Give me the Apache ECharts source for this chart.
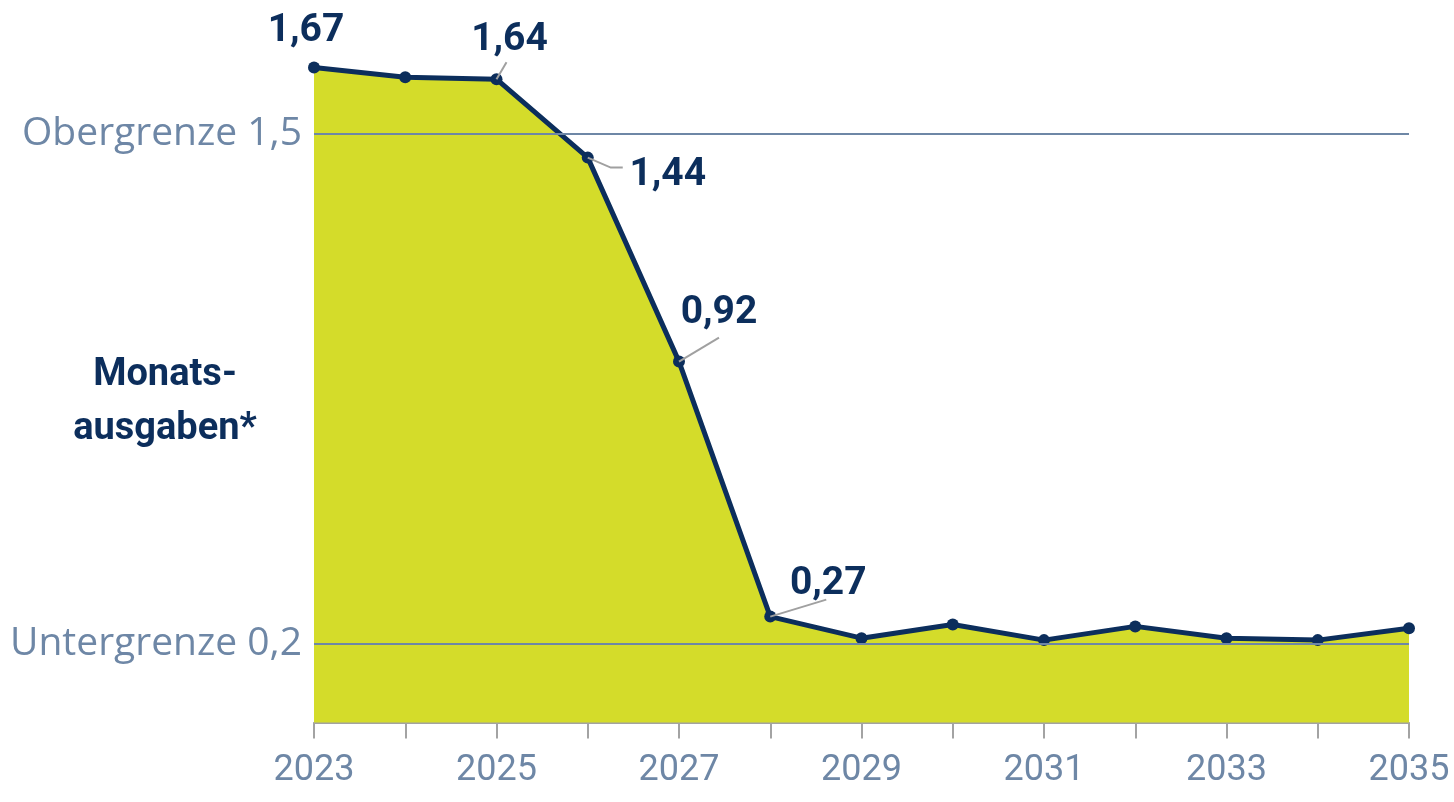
<!DOCTYPE html>
<html>
<head>
<meta charset="utf-8">
<script src="https://cdn.jsdelivr.net/npm/echarts@6/dist/echarts.min.js"></script>
<style>
  html, body { margin: 0; padding: 0; background: #fff; }
  #container { width: 1454px; height: 802px; }
</style>
</head>
<body>
<div id="container"></div>
<script>
// Jahre und Werte
var years = ['2023', '2024', '2025', '2026', '2027', '2028', '2029', '2030', '2031', '2032', '2033', '2034', '2035'];
var values = [1.67, 1.645, 1.64, 1.44, 0.92, 0.27, 0.215, 0.25, 0.21, 0.245, 0.215, 0.21, 0.24];
var labelled = [0, 2, 3, 4, 5];   // Punkte mit Beschriftung
var labelShift = [[-8, -6], [0, 0], [13, -8], [80, 48], [40, -18], [58, -2]];
// Hinweislinien (Pixelversatz vom Punkt)
var leaders = {
    2: [[0, 0], [10, -17]],
    3: [[0, 0], [23, 10], [35, 10]],
    4: [[0, 0], [40, -24]],
    5: [[0, 0], [56, -17]]
};
var limits = [1.5, 0.2];
var limitNames = ['Obergrenze 1,5', 'Untergrenze 0,2'];

var navy = '#0c2e5c';
var grey = '#6e87a6';

var myChart = echarts.init(document.getElementById('container'));

var seriesData = values.map(function (v, i) {
    return { value: v, label: { show: labelled.indexOf(i) >= 0 } };
});
var leaderData = Object.keys(leaders).map(function (k) {
    return [Number(k), values[k]];
});

myChart.setOption({
    animation: false,
    grid: { left: 314, right: 45, top: 16.4, bottom: 79.5 },
    graphic: [{
        type: 'text',
        x: 165,
        y: 348,
        style: {
            text: 'Monats-\nausgaben*',
            fill: navy,
            font: 'bold 38px Roboto',
            lineHeight: 54,
            align: 'center',
            verticalAlign: 'top'
        }
    }],
    xAxis: {
        type: 'category',
        boundaryGap: false,
        data: years,
        axisLine: { lineStyle: { color: '#a3a3a0', width: 2 } },
        axisTick: { show: true, interval: 0, length: 16, lineStyle: { color: '#a3a3a3', width: 2 } },
        axisLabel: { interval: 1, color: grey, fontSize: 36, fontFamily: 'Roboto', margin: 30 },
        splitLine: { show: false }
    },
    yAxis: {
        type: 'value',
        min: 0,
        max: 1.8,
        show: false
    },
    series: [{
        type: 'line',
        data: seriesData,
        symbol: 'circle',
        symbolSize: 12,
        itemStyle: { color: navy },
        lineStyle: { color: navy, width: 5 },
        areaStyle: { color: '#d4dc2a', opacity: 1 },
        label: {
            position: 'top',
            distance: 5,
            color: navy,
            fontSize: 39,
            fontWeight: 'bold',
            fontFamily: 'Roboto',
            formatter: function (p) { return p.value.toFixed(2).replace('.', ','); }
        },
        labelLayout: function (p) {
            var s = labelShift[p.dataIndex] || [0, 0];
            return { dx: s[0], dy: s[1] };
        },
        markLine: {
            silent: true,
            symbol: 'none',
            lineStyle: { color: grey, width: 2, type: 'solid' },
            label: {
                position: 'start',
                distance: 12,
                color: grey,
                fontSize: 39,
                fontFamily: 'Open Sans',
                formatter: function (p) { return limitNames[p.dataIndex]; }
            },
            data: limits.map(function (v) { return { yAxis: v }; })
        },
        z: 3
    }, {
        type: 'custom',
        silent: true,
        data: leaderData,
        z: 4,
        renderItem: function (params, api) {
            var pt = api.coord([api.value(0), api.value(1)]);
            var off = leaders[api.value(0)];
            return {
                type: 'polyline',
                shape: { points: off.map(function (o) { return [pt[0] + o[0], pt[1] + o[1]]; }) },
                style: { stroke: '#a0a0a0', lineWidth: 2, fill: null }
            };
        }
    }]
});
</script>
</body>
</html>
